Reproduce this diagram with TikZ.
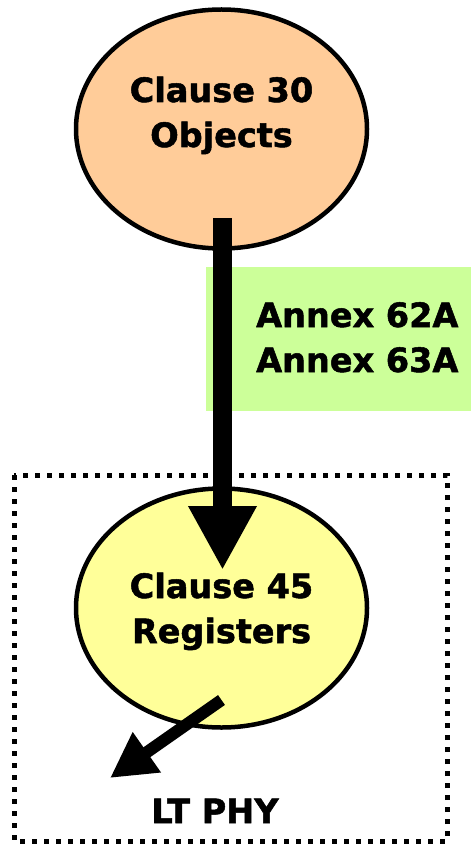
\documentclass[tikz,border=0pt]{standalone}
\usepackage{fontspec}
\setmainfont{DejaVu Sans}[BoldFeatures={FakeBold=1.5}]
\usetikzlibrary{shapes.geometric,arrows.meta}
\definecolor{peach}{HTML}{FFCC99}
\definecolor{paleyellow}{HTML}{FFFF99}
\definecolor{palegreen}{HTML}{CCFF99}
\tikzset{
  blob/.style={ellipse, draw=black, line width=4.5pt, minimum width=291pt, minimum height=239pt, inner sep=0pt},
  lbl/.style={font=\fontsize{33.5}{45}\selectfont\bfseries, align=center, inner sep=0pt, anchor=base},
  bigarrow/.style={line width=19pt, -{Triangle[length=64pt,width=64pt]}},
  smallarrow/.style={line width=12pt, -{Triangle[length=45pt,width=46pt]}},
  groupbox/.style={line width=5pt, dash pattern=on 5pt off 7pt}
}
\begin{document}
\begin{tikzpicture}[x=1pt,y=-1pt]
  \useasboundingbox (0,0) rectangle (471,845);
  % annex band behind the arrow
  \node[fill=palegreen, inner sep=0pt, minimum width=265pt, minimum height=144pt, anchor=north west] (band) at (206,267) {};
  % the two ellipses
  \node[blob, fill=peach] (obj) at (221.5,129) {};
  \node[blob, fill=paleyellow] (reg) at (221.5,608) {};
  % labels
  \node[lbl] (objtxt) at (221.5,147) {Clause 30\\Objects};
  \node[lbl] (regtxt) at (221.5,643) {Clause 45\\Registers};
  \node[lbl, anchor=base west] (annex) at (256,372) {Annex 62A\\Annex 63A};
  \node[lbl] (phy) at (215,823) {LT PHY};
  % dotted group frame
  \draw[groupbox] (14,475) rectangle (447,841);
  % connectors
  \coordinate (bigstart) at (222.5,218);
  \coordinate (bigend) at (222.5,570);
  \draw[bigarrow] (bigstart) -- (bigend);
  \coordinate (smallstart) at (221.5,700);
  \coordinate (smallend) at (110,778);
  \draw[smallarrow] (smallstart) -- (smallend);
\end{tikzpicture}
\end{document}
